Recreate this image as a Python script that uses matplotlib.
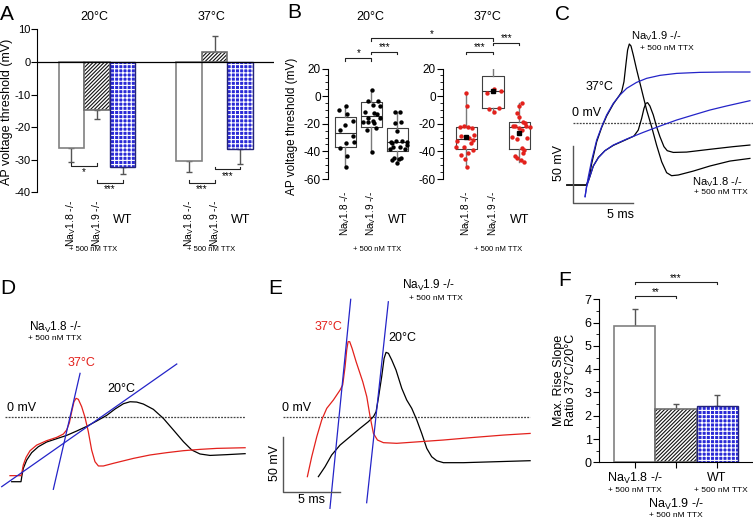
import matplotlib.pyplot as plt
from matplotlib.ticker import MultipleLocator

plt.rcParams['font.family'] = ['Liberation Sans', 'DejaVu Sans']
plt.rcParams['mathtext.default'] = 'regular'
plt.rcParams['axes.unicode_minus'] = False
plt.rcParams['hatch.linewidth'] = 0.8

W, H = 753, 519

NAV18 = 'Na$_V$1.8 -/-'
NAV19 = 'Na$_V$1.9 -/-'
TTX = '+ 500 nM TTX'

BLUE = '#2a2ad6'
RED = '#e3211c'
LINE_BLUE = '#2424c8'

# ---- A: AP voltage threshold, mean + SEM (mV)
thr_20 = [-26.4, -14.7, -32.2]
thr_20_err = [4.3, 2.7, 2.2]
thr_37 = [-30.5, 3.1, -26.7]
thr_37_err = [3.2, 4.9, 4.7]

# ---- B: single cells (mV); box = [whisker low, q1, median, q3, whisker high]
b20_nav18 = [-9.9, -6.8, -12.8, -17.9, -24.4, -21.0, -29.2, -32.9, -34.1, -37.7, -43.7, -51.5]
b20_nav18_jit = [-0.23, 0.03, 0.05, 0.28, -0.22, 0.0, 0.29, 0.31, 0.03, -0.22, 0.04, 0.03]
b20_nav19 = [4.6, -3.7, -3.2, -6.3, -7.5, -12.3, -11.8, -16.0, -13.0, -17.9, -18.4, -18.9,
             -16.0, -24.4, -23.2, -19.6, -40.1]
b20_nav19_jit = [0.03, -0.15, 0.26, 0.06, 0.32, 0.10, -0.26, -0.13, 0.22, 0.06, -0.32, -0.13,
                 0.32, -0.19, 0.19, 0.10, 0.03]
b20_wt = [-11.8, -11.8, -19.1, -18.4, -25.6, -32.9, -32.4, -32.4, -32.9, -37.0, -36.5, -35.3,
          -38.4, -44.9, -45.7, -44.9, -48.1, -46.2, -38.4, -34.0]
b20_wt_jit = [-0.10, 0.09, -0.10, 0.15, 0.0, -0.26, -0.04, 0.18, 0.35, -0.17, 0.09, 0.35,
              -0.29, -0.13, 0.05, 0.15, 0.0, -0.21, 0.28, -0.23]
b20_boxes = [[-51.5, -37.0, -26.4, -14.8, -6.8],
             [-40.1, -22.0, -14.3, -3.9, 4.6],
             [-48.1, -39.4, -32.9, -22.8, -11.8]]

b37_nav18 = [2.1, -7.5, -22.0, -21.5, -22.0, -23.2, -28.1, -29.2, -30.0, -32.2, -31.6, -34.1,
             -37.0, -38.9, -41.3, -45.2, -42.5, -51.5, -36.5]
b37_nav18_jit = [0.0, 0.01, -0.24, -0.09, 0.04, 0.19, 0.29, -0.21, 0.10, -0.34, 0.26, 0.16,
                 -0.11, 0.23, 0.06, -0.06, -0.21, 0.01, -0.38]
b37_nav19 = [25.5, 22.5, 2.1, 5.3, 3.8, -9.4, -11.6, -8.7]
b37_nav19_jit = [-0.11, 0.18, -0.24, 0.05, 0.30, -0.15, 0.05, 0.23]
b37_wt = [-5.1, -7.5, -12.3, -15.2, -18.4, -19.6, -21.3, -21.5, -21.3, -23.2, -24.4, -22.0,
          -29.8, -31.2, -30.5, -37.7, -38.9, -41.3, -45.0, -46.2, -47.6, -43.7]
b37_wt_jit = [0.08, -0.03, -0.09, -0.03, 0.13, 0.20, 0.25, -0.15, -0.25, -0.03, 0.10, 0.38,
              -0.30, -0.09, 0.29, 0.08, 0.16, 0.13, -0.09, 0.04, 0.16, -0.15]
b37_boxes = [[-51.5, -38.4, -31.0, -22.0, 2.1],
             [-12.3, -8.7, 3.4, 14.7, 25.5],
             [-47.6, -38.0, -22.0, -18.8, -5.1]]
b37_means = [-29.8, 3.4, -26.4]

# ---- C: example traces at 37 degC (ms, mV)
c_ramp_fast_t = [1.02, 1.15, 1.29, 1.57, 1.98, 2.39, 2.80, 3.35, 3.90, 4.45, 5.27, 6.10, 7.20,
                 8.57, 10.49, 12.69, 14.62]
c_ramp_fast_v = [-64.2, -55.0, -46.9, -32.4, -15.0, -3.5, 6.7, 16.8, 24.0, 29.8, 35.0, 38.5,
                 41.1, 42.8, 43.7, 44.0, 44.0]
c_ramp_slow_t = [1.02, 1.15, 1.43, 1.70, 2.12, 2.66, 3.35, 4.45, 5.82, 7.20, 8.57, 9.95, 11.32,
                 12.69, 14.62]
c_ramp_slow_v = [-64.2, -55.6, -46.3, -37.6, -30.4, -24.3, -19.4, -14.2, -8.4, -2.9, 2.3, 6.7,
                 11.0, 14.5, 19.1]
c_nav19_t = [-0.49, 1.15, 1.37, 1.57, 1.98, 2.39, 2.80, 3.35, 3.85, 4.04, 4.23, 4.40, 4.53,
             4.67, 4.81, 5.00, 5.27, 5.69, 6.10, 6.51, 6.92, 7.34, 7.75, 8.16, 8.71, 9.95,
             11.32, 12.97, 14.62]
c_nav19_v = [-54.1, -54.1, -46.9, -35.3, -16.5, -4.1, 5.8, 16.2, 23.7, 26.9, 35.6, 51.5, 63.1,
             68.3, 66.6, 58.7, 46.3, 28.4, 11.0, -3.5, -19.4, -33.9, -43.4, -46.0, -45.4, -42.0,
             -37.6, -33.3, -31.0]
c_nav18_t = [-0.49, 1.15, 1.37, 1.70, 2.12, 2.66, 3.35, 4.45, 5.05, 5.41, 5.69, 5.88, 6.04,
             6.18, 6.37, 6.65, 6.92, 7.20, 7.53, 7.80, 8.30, 9.40, 11.32, 13.24, 14.62]
c_nav18_v = [-54.1, -54.1, -48.3, -37.6, -30.1, -24.3, -19.7, -14.5, -11.6, -6.4, 3.8, 12.4,
             16.8, 17.4, 14.5, 6.7, -3.5, -12.2, -20.8, -24.3, -25.8, -25.5, -23.1, -20.8, -19.4]

# ---- D: NaV1.8-/- at 37 and 20 degC, with max rise slope lines
d_37_t = [0.87, 1.83, 1.92, 2.03, 2.27, 2.62, 3.20, 4.07, 4.94, 5.52, 5.81, 6.05, 6.25, 6.45,
          6.63, 6.83, 7.12, 7.41, 7.70, 7.99, 8.28, 8.58, 9.01, 9.88, 11.63, 13.08, 14.53,
          15.99, 17.44, 18.90, 21.37]
d_37_v = [-53.6, -53.6, -50.0, -43.9, -37.0, -30.9, -25.8, -21.8, -18.8, -15.8, -12.1, -5.5,
          4.5, 13.6, 16.7, 15.8, 9.1, -0.6, -13.6, -30.3, -40.9, -44.8, -44.8, -42.4, -37.9,
          -34.8, -32.7, -30.9, -29.7, -28.8, -28.2]
d_20_t = [1.02, 1.83, 1.92, 2.03, 2.33, 2.76, 3.34, 4.07, 4.94, 5.81, 6.69, 7.56, 8.43, 9.30,
          10.03, 10.76, 11.34, 11.92, 12.50, 13.37, 14.24, 15.12, 15.99, 16.72, 17.44, 18.31,
          19.77, 21.37]
d_20_v = [-59.1, -59.1, -53.0, -47.0, -39.4, -32.7, -27.3, -23.0, -20.0, -17.0, -13.0, -8.8,
          -3.9, 1.2, 7.0, 11.8, 13.6, 13.3, 11.5, 6.7, -1.5, -12.1, -22.7, -30.3, -33.9, -35.2,
          -34.5, -33.6]
d_slope37_t = [4.65, 6.98]
d_slope37_v = [-66.0, 39.4]
d_slope20_t = [0.15, 15.41]
d_slope20_v = [-63.6, 47.9]

# ---- E: NaV1.9-/- at 37 and 20 degC
e_37_t = [2.15, 2.53, 2.97, 3.40, 3.84, 4.42, 5.00, 5.23, 5.44, 5.58, 5.70, 5.84, 6.05, 6.40,
          6.69, 6.98, 7.33, 7.62, 7.91, 8.26, 8.78, 9.94, 11.98, 14.01, 16.34, 19.24, 21.57]
e_37_v = [-54.5, -36.4, -18.2, -3.0, 7.6, 15.2, 24.2, 28.8, 45.5, 60.6, 68.2, 68.2, 62.1, 50.0,
          40.9, 31.8, 18.2, 0.0, -15.2, -21.2, -23.6, -24.2, -22.7, -21.2, -19.1, -16.7, -15.2]
e_20_t = [3.11, 3.69, 4.27, 5.00, 5.87, 6.74, 7.47, 7.91, 8.14, 8.34, 8.63, 8.84, 9.01, 9.22,
          9.51, 9.88, 10.38, 10.81, 11.25, 11.69, 12.12, 12.56, 12.99, 13.43, 14.01, 15.76,
          18.66, 21.57]
e_20_v = [-54.5, -45.5, -34.8, -25.8, -18.2, -10.6, -4.5, 0.0, 4.5, 16.7, 36.4, 53.0, 58.5,
          57.6, 51.5, 42.4, 25.8, 15.2, 7.6, -3.0, -15.2, -28.8, -36.4, -40.0, -41.8, -41.8,
          -40.9, -40.0]
e_slope37_t = [4.12, 5.93]
e_slope37_v = [-83.3, 106.7]
e_slope20_t = [7.32, 9.21]
e_slope20_v = [-78.2, 104.5]

# ---- F: max rise slope ratio 37/20 degC
ratio = [5.87, 2.28, 2.43]
ratio_err = [0.71, 0.21, 0.46]


def px_axes(fig, left, top, right, bottom):
    return fig.add_axes([left / W, 1 - bottom / H, (right - left) / W, (bottom - top) / H])


def ftext(fig, x, y, s, **kw):
    kw.setdefault('ha', 'center')
    kw.setdefault('va', 'center')
    fig.text(x / W, 1 - y / H, s, **kw)


def trace_axes(fig, box, origin, px_ms, px_mv):
    left, top, right, bottom = box
    ax = px_axes(fig, left, top, right, bottom)
    ax.set_xlim((left - origin[0]) / px_ms, (right - origin[0]) / px_ms)
    ax.set_ylim((origin[1] - bottom) / px_mv, (origin[1] - top) / px_mv)
    ax.axis('off')
    return ax


def zero_line(ax, t0, t1):
    lo, hi = ax.get_xlim()
    ax.axhline(0, xmin=(t0 - lo) / (hi - lo), xmax=(t1 - lo) / (hi - lo),
               color='#444444', lw=0.9, ls=(0, (1.5, 1)))


def bracket(ax, x1, x2, y, tick, stars, text_y, size=7):
    ax.plot([x1, x1, x2, x2], [y + tick, y, y, y + tick], color='#222222', lw=0.8,
            clip_on=False)
    ax.text((x1 + x2) / 2, text_y, stars, ha='center', va='center', fontsize=size,
            clip_on=False)


def draw_bars(ax, xs, vals, errs):
    ax.bar(xs[0], vals[0], width=1, color='white', edgecolor='#808080', lw=1.2, zorder=2)
    ax.bar(xs[1], vals[1], width=1, color='white', edgecolor='#111111', hatch='/////////',
           lw=0, zorder=2)
    ax.bar(xs[1], vals[1], width=1, fill=False, edgecolor='#707070', lw=1.2, zorder=2)
    ax.bar(xs[2], vals[2], width=1, color=BLUE, edgecolor='white', hatch='++++', lw=0, zorder=2)
    ax.bar(xs[2], vals[2], width=1, fill=False, edgecolor='#22227a', lw=1.0, zorder=2)
    lower = [e if v < 0 else 0 for v, e in zip(vals, errs)]
    upper = [e if v >= 0 else 0 for v, e in zip(vals, errs)]
    ax.errorbar(xs, vals, yerr=[lower, upper], fmt='none', ecolor='#555555', elinewidth=1,
                capsize=2, capthick=1, zorder=1)


def style_left(ax, size=8):
    for side in ['top', 'right', 'bottom']:
        ax.spines[side].set_visible(False)
    ax.spines['left'].set_linewidth(0.8)
    ax.tick_params(axis='y', direction='out', length=4, width=0.8, labelsize=size, pad=1.5)
    ax.tick_params(axis='y', which='minor', direction='out', length=2, width=0.6)
    ax.set_xticks([])


def draw_boxes(ax, boxes, pts, jits, color, means=None):
    stats = []
    for i, b in enumerate(boxes):
        s = dict(whislo=b[0], q1=b[1], med=b[2], q3=b[3], whishi=b[4])
        if means is not None:
            s['mean'] = means[i]
        stats.append(s)
    ax.bxp(stats, positions=[1, 2, 3], widths=0.8, showfliers=False, showcaps=False,
           showmeans=means is not None,
           boxprops=dict(color='#404040', lw=0.8),
           whiskerprops=dict(color='#7a7a7a', lw=1.0),
           medianprops=dict(color='#303030', lw=0.8),
           meanprops=dict(marker='s', markerfacecolor='black', markeredgecolor='black',
                          markersize=2.5, zorder=4))
    for i, (p, j) in enumerate(zip(pts, jits)):
        ax.scatter([i + 1 + d for d in j], p, s=10, color=color, linewidths=0, zorder=3)


def main():
    fig = plt.figure(figsize=(W / 100, H / 100), dpi=100)

    # ================= A
    ax = px_axes(fig, 37.3, 29.3, 274, 192.3)
    x20 = [0, 1, 2]
    x37 = [4.6, 5.6, 6.6]
    draw_bars(ax, x20, thr_20, thr_20_err)
    draw_bars(ax, x37, thr_37, thr_37_err)
    ax.axhline(0, color='black', lw=0.9, zorder=3)
    ax.set_ylim(-40, 10)
    ax.set_xlim(-1.33, 7.92)
    ax.set_yticks([-40, -30, -20, -10, 0, 10])
    style_left(ax, size=8)
    ax.tick_params(axis='y', pad=1)
    for xs, title in [(x20, '20°C'), (x37, '37°C')]:
        for x, lab in zip(xs[:2], [NAV18, NAV19]):
            ax.text(x, -42.4, lab, rotation=90, ha='center', va='top', fontsize=7.5,
                    clip_on=False)
        ax.text(xs[2], -48.5, 'WT', ha='center', va='center', fontsize=9)
        ax.text(xs[0] + 0.87, -57.6, TTX, ha='center', va='center', fontsize=5.5)
        ax.text(xs[0] + 0.88, 13.8, title, ha='center', va='center', fontsize=9)
    bracket(ax, 0, 1, -31.9, 0.8, '*', -33.9)
    bracket(ax, 1, 2, -37.1, 0.8, '***', -39.0)
    bracket(ax, 4.6, 5.6, -37.1, 0.8, '***', -39.0)
    bracket(ax, 5.6, 6.6, -32.9, 0.8, '***', -34.9)
    ftext(fig, 7.5, 112, 'AP voltage threshold (mV)', rotation=90, fontsize=9)

    # ================= B
    bl = px_axes(fig, 328.3, 68.5, 410.5, 179)
    br = px_axes(fig, 443.3, 68.5, 532.7, 179)
    draw_boxes(bl, b20_boxes, [b20_nav18, b20_nav19, b20_wt],
               [b20_nav18_jit, b20_nav19_jit, b20_wt_jit], 'black')
    draw_boxes(br, b37_boxes, [b37_nav18, b37_nav19, b37_wt],
               [b37_nav18_jit, b37_nav19_jit, b37_wt_jit], RED, means=b37_means)
    for a, xl in [(bl, (0.34, 3.5)), (br, (0.125, 3.5))]:
        a.set_ylim(-60, 20)
        a.set_xlim(*xl)
        a.set_yticks([-60, -40, -20, 0, 20])
        a.yaxis.set_minor_locator(MultipleLocator(5))
        style_left(a, size=8.5)
        for x, lab in zip([1, 2], [NAV18, NAV19]):
            a.text(x, -68, lab, rotation=90, ha='center', va='top', fontsize=7.2,
                   clip_on=False)
        a.text(3, -89.7, 'WT', ha='center', va='center', fontsize=9, clip_on=False)
        a.text(2.2, -110.7, TTX, ha='center', va='center', fontsize=5.5, clip_on=False)
    bl.text(1.94, 57.3, '20°C', ha='center', va='center', fontsize=9, clip_on=False)
    br.text(1.81, 57.3, '37°C', ha='center', va='center', fontsize=9, clip_on=False)
    bracket(bl, 1, 2, 27.6, -2, '*', 31.0)
    bracket(bl, 2, 3, 32.2, -2, '***', 35.2)
    bracket(br, 1, 2, 32.2, -2, '***', 35.2)
    bracket(br, 2, 3, 38.8, -2, '***', 41.8)
    # long bracket across both temperature panels (NaV1.9 20 vs 37 degC)
    x_right = bl.transData.inverted().transform(br.transData.transform((2, 0)))[0]
    bracket(bl, 2, x_right, 41.9, -2, '*', 45.0)
    ftext(fig, 292.5, 126.7, 'AP voltage threshold (mV)', rotation=90, fontsize=8.5)

    # ================= C
    ac = trace_axes(fig, (560, 25, 753, 230), (572.7, 122.7), 12.12, 1.152)
    zero_line(ac, 0, ac.get_xlim()[1])
    ac.plot(c_nav19_t, c_nav19_v, color='black', lw=0.9)
    ac.plot(c_nav18_t, c_nav18_v, color='black', lw=0.9)
    ac.plot(c_ramp_fast_t, c_ramp_fast_v, color=LINE_BLUE, lw=0.9)
    ac.plot(c_ramp_slow_t, c_ramp_slow_v, color=LINE_BLUE, lw=0.9)
    ac.plot([0, 0, 5], [-20, -70, -70], color='#555555', lw=1.0)
    ftext(fig, 559, 163, '50 mV', rotation=90, fontsize=9)
    ftext(fig, 620.7, 215, '5 ms', fontsize=9)
    ftext(fig, 656, 36, NAV19, fontsize=8)
    ftext(fig, 666.5, 48, TTX, fontsize=6)
    ftext(fig, 600, 87, '37°C', fontsize=9)
    ftext(fig, 572, 113, '0 mV', ha='left', fontsize=9)
    ftext(fig, 717.5, 182, NAV18, fontsize=8)
    ftext(fig, 721, 193, TTX, fontsize=6)

    # ================= D
    ad = trace_axes(fig, (0, 300, 250, 500), (0, 416.7), 11.47, 1.1)
    zero_line(ad, 0.44, 21.4)
    ad.plot(d_20_t, d_20_v, color='black', lw=0.9)
    ad.plot(d_37_t, d_37_v, color=RED, lw=0.9)
    ad.plot(d_slope37_t, d_slope37_v, color=LINE_BLUE, lw=0.9)
    ad.plot(d_slope20_t, d_slope20_v, color=LINE_BLUE, lw=0.9)
    ftext(fig, 56, 327, NAV18, fontsize=8.5)
    ftext(fig, 55, 338, TTX, fontsize=6)
    ftext(fig, 81, 363, '37°C', fontsize=9, color=RED)
    ftext(fig, 121.7, 389, '20°C', fontsize=9)
    ftext(fig, 7, 408, '0 mV', ha='left', fontsize=9)

    # ================= E
    ae = trace_axes(fig, (255, 290, 535, 515), (282.7, 416.7), 11.47, 1.1)
    zero_line(ae, 0, 21.6)
    ae.plot(e_20_t, e_20_v, color='black', lw=0.9)
    ae.plot(e_37_t, e_37_v, color=RED, lw=0.9)
    ae.plot(e_slope37_t, e_slope37_v, color=LINE_BLUE, lw=0.9)
    ae.plot(e_slope20_t, e_slope20_v, color=LINE_BLUE, lw=0.9)
    ae.plot([0, 0, 5], [-18, -68, -68], color='#555555', lw=1.0)
    ftext(fig, 275, 463, '50 mV', rotation=90, fontsize=9)
    ftext(fig, 311.7, 500, '5 ms', fontsize=9)
    ftext(fig, 429, 285, NAV19, fontsize=8.5)
    ftext(fig, 436, 298, TTX, fontsize=6)
    ftext(fig, 328.5, 327, '37°C', fontsize=9, color=RED)
    ftext(fig, 402.5, 338, '20°C', fontsize=9)
    ftext(fig, 282, 408, '0 mV', ha='left', fontsize=9)

    # ================= F
    af = px_axes(fig, 599.3, 299.3, 752.7, 462.3)
    draw_bars(af, [0, 1, 2], ratio, ratio_err)
    af.set_ylim(0, 7)
    af.set_xlim(-0.87, 2.87)
    for side in ['top', 'right']:
        af.spines[side].set_visible(False)
    af.spines['left'].set_linewidth(0.8)
    af.spines['bottom'].set_linewidth(0.8)
    af.set_yticks(range(8))
    af.yaxis.set_minor_locator(MultipleLocator(0.5))
    af.set_xticks([0, 1, 2])
    af.set_xticklabels([])
    af.tick_params(direction='out', length=4, width=0.8, labelsize=9, pad=1.5)
    af.tick_params(axis='y', which='minor', direction='out', length=2, width=0.6)
    af.text(0, -0.69, NAV18, ha='center', va='center', fontsize=9, clip_on=False)
    af.text(0, -1.19, TTX, ha='center', va='center', fontsize=6, clip_on=False)
    af.text(2, -0.69, 'WT', ha='center', va='center', fontsize=9, clip_on=False)
    af.text(2.1, -1.19, TTX, ha='center', va='center', fontsize=6, clip_on=False)
    af.text(1, -1.83, NAV19, ha='center', va='center', fontsize=9, clip_on=False)
    af.text(1, -2.3, TTX, ha='center', va='center', fontsize=6, clip_on=False)
    bracket(af, 0, 1, 7.15, -0.11, '**', 7.32)
    bracket(af, 0, 2, 7.75, -0.11, '***', 7.92)
    ftext(fig, 565, 380, 'Max. Rise Slope\nRatio 37°C/20°C', rotation=90, fontsize=9,
          linespacing=0.95)

    # panel letters
    for x, y, letter in [(0, 14, 'A'), (287, 12, 'B'), (555, 14, 'C'), (0, 288, 'D'),
                         (268, 288, 'E'), (558, 281, 'F')]:
        ftext(fig, x, y, letter, ha='left', fontsize=15)

    fig.savefig('out.png', dpi=100, facecolor='white')
    plt.close(fig)


if __name__ == '__main__':
    main()
